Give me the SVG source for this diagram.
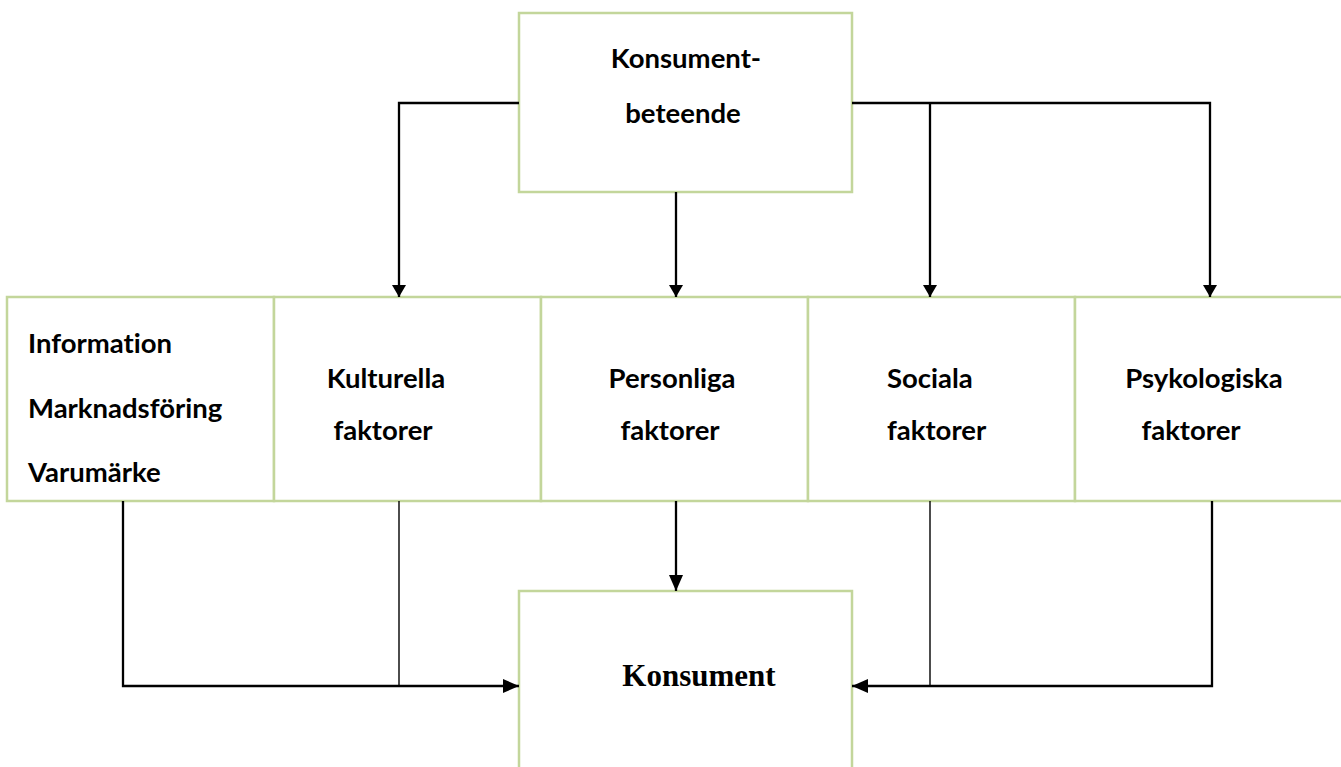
<svg xmlns="http://www.w3.org/2000/svg" width="1341" height="767" viewBox="0 0 1341 767">
<style>
.box{fill:#fff;stroke:#c3d69b;stroke-width:2.5}
.t{font-family:Lato,"Liberation Sans",sans-serif;font-weight:bold;font-size:27.5px;fill:#000;font-variant-ligatures:none}
.s{font-family:"Liberation Serif",serif;font-weight:bold;font-size:31px;fill:#000}
.c{fill:none;stroke:#000;stroke-width:2.3}
.thin{fill:none;stroke:#000;stroke-width:1.4}
</style>
<defs>
<marker id="ah" viewBox="0 0 12 14" refX="12" refY="7" markerWidth="12" markerHeight="14" markerUnits="userSpaceOnUse" orient="auto">
<path d="M0,0 L12,7 L0,14 Z" fill="#000"/>
</marker>
<marker id="ah2" viewBox="0 0 16 14" refX="16" refY="7" markerWidth="16" markerHeight="14" markerUnits="userSpaceOnUse" orient="auto">
<path d="M0,0 L16,7 L0,14 Z" fill="#000"/>
</marker>
</defs>
<g id="konsumentbeteende">
<rect class="box" x="519" y="13" width="333" height="179"/>
<text class="t" x="686" y="68" text-anchor="middle">Konsument-</text>
<text class="t" x="683" y="123" text-anchor="middle">beteende</text>
</g>
<g id="information">
<rect class="box" x="7" y="297" width="267" height="204"/>
<text class="t" x="28" y="353">Information</text>
<text class="t" x="28" y="418">Marknadsföring</text>
<text class="t" x="28" y="482">Varumärke</text>
</g>
<g id="kulturella">
<rect class="box" x="274" y="297" width="267" height="204"/>
<text class="t" x="386" y="388" text-anchor="middle">Kulturella</text>
<text class="t" x="383" y="440" text-anchor="middle">faktorer</text>
</g>
<g id="personliga">
<rect class="box" x="541" y="297" width="267" height="204"/>
<text class="t" x="672" y="388" text-anchor="middle">Personliga</text>
<text class="t" x="670" y="440" text-anchor="middle">faktorer</text>
</g>
<g id="sociala">
<rect class="box" x="808" y="297" width="267" height="204"/>
<text class="t" x="887" y="388">Sociala</text>
<text class="t" x="887" y="440">faktorer</text>
</g>
<g id="psykologiska">
<rect class="box" x="1075" y="297" width="280" height="204"/>
<text class="t" x="1204" y="388" text-anchor="middle">Psykologiska</text>
<text class="t" x="1191" y="440" text-anchor="middle">faktorer</text>
</g>
<g id="konsument">
<rect class="box" x="519" y="591" width="333" height="190"/>
<text class="s" x="699" y="686" text-anchor="middle">Konsument</text>
</g>
<g id="connectors">
<path class="c" d="M519,103 H399 V297" marker-end="url(#ah)"/>
<path class="c" d="M676,192 V297" marker-end="url(#ah)"/>
<path class="c" d="M852,103 H1210 V297" marker-end="url(#ah)"/>
<path class="c" d="M930,103 V297" marker-end="url(#ah)"/>
<path class="c" d="M123,501 V686 H519" marker-end="url(#ah2)"/>
<path class="thin" d="M399,501 V686"/>
<path class="c" d="M676,501 V591" marker-end="url(#ah2)"/>
<path class="c" d="M1212,501 V686 H852" marker-end="url(#ah2)"/>
<path class="thin" d="M930,501 V686"/>
</g>
</svg>
